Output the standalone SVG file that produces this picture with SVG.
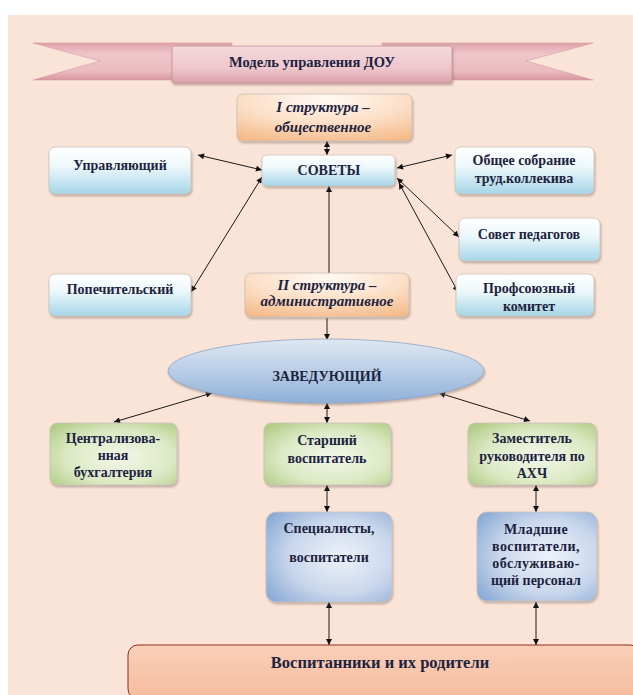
<svg xmlns="http://www.w3.org/2000/svg" width="633" height="695" viewBox="0 0 633 695">
<defs>
<linearGradient id="gBlue" x1="0" y1="0" x2="0" y2="1">
<stop offset="0" stop-color="#ffffff"/>
<stop offset="0.4" stop-color="#eef8fb"/>
<stop offset="1" stop-color="#a6d6e8"/>
</linearGradient>
<radialGradient id="gOrange" cx="0.5" cy="0.2" r="0.9" fx="0.5" fy="0.1">
<stop offset="0" stop-color="#fffaf5"/>
<stop offset="0.5" stop-color="#fce0c8"/>
<stop offset="1" stop-color="#f4b886"/>
</radialGradient>
<radialGradient id="gGreen" cx="0.55" cy="0.55" r="0.7">
<stop offset="0" stop-color="#f3f7ea"/>
<stop offset="0.6" stop-color="#dce9c4"/>
<stop offset="1" stop-color="#b3cd88"/>
</radialGradient>
<radialGradient id="gSteel" cx="0.6" cy="0.5" r="0.75">
<stop offset="0" stop-color="#eef2f9"/>
<stop offset="0.55" stop-color="#c9d7ec"/>
<stop offset="1" stop-color="#86a7d4"/>
</radialGradient>
<linearGradient id="gEll" x1="0" y1="0" x2="0" y2="1">
<stop offset="0" stop-color="#dfe8f3"/>
<stop offset="0.5" stop-color="#b9cde6"/>
<stop offset="1" stop-color="#8fb0d9"/>
</linearGradient>
<linearGradient id="gPinkBox" x1="0" y1="0" x2="0" y2="1">
<stop offset="0" stop-color="#f3d9dc"/>
<stop offset="0.6" stop-color="#eec7cc"/>
<stop offset="1" stop-color="#d9a0aa"/>
</linearGradient>
<linearGradient id="gWing" x1="0" y1="0" x2="0" y2="1">
<stop offset="0" stop-color="#dea2aa"/>
<stop offset="0.3" stop-color="#efc6cb"/>
<stop offset="0.75" stop-color="#ebbcc2"/>
<stop offset="1" stop-color="#d8979f"/>
</linearGradient>
<linearGradient id="gBottom" x1="0" y1="0" x2="0" y2="1">
<stop offset="0" stop-color="#f9cfb8"/>
<stop offset="1" stop-color="#f5bc9d"/>
</linearGradient>
<filter id="sh" x="-10%" y="-10%" width="125%" height="130%">
<feDropShadow dx="1" dy="2" stdDeviation="1.2" flood-color="#7a6a60" flood-opacity="0.45"/>
</filter>
<marker id="ar" viewBox="0 0 10 10" refX="10" refY="5" markerWidth="7" markerHeight="6" markerUnits="userSpaceOnUse" orient="auto-start-reverse">
<path d="M0,0 L10,5 L0,10 z" fill="#111"/>
</marker>
</defs>
<style>
.t{font-family:"Liberation Serif","Tinos","DejaVu Serif","Noto Serif","Times New Roman",Times,serif;font-weight:bold;font-size:14px;fill:#1c2340;text-anchor:middle}
.it{font-style:italic;font-size:15px}
.big{font-size:16.5px}
.ttl{font-size:14.5px}
.box{stroke:#c9c2bb;stroke-width:0.8;filter:url(#sh)}
.c{stroke:#1a1a1a;stroke-width:1;fill:none}
.d{marker-start:url(#ar);marker-end:url(#ar)}
.s{marker-end:url(#ar)}
</style>
<rect x="8" y="15" width="625" height="680" fill="#fae4d7"/>

<g id="banner">
<polygon points="33,43 232,43 232,80 33,80 100,61" fill="url(#gWing)" stroke="#d49aa2" stroke-width="0.6"/>
<polygon points="593,43 382,43 382,80 593,80 526,61" fill="url(#gWing)" stroke="#d49aa2" stroke-width="0.6"/>
<rect x="172" y="46" width="280" height="37" rx="2" fill="url(#gPinkBox)" stroke="#c98f99" stroke-width="0.8" filter="url(#sh)"/>
<text class="t ttl" x="312" y="67">Модель управления ДОУ</text>
</g>

<g id="connectors">
<line class="c d" x1="327" y1="141" x2="327" y2="155"/>
<line class="c d" x1="262" y1="170" x2="198" y2="155"/>
<line class="c d" x1="262" y1="177" x2="191" y2="292"/>
<line class="c d" x1="397" y1="168" x2="452" y2="155"/>
<line class="c d" x1="397" y1="178" x2="459" y2="237"/>
<line class="c d" x1="399" y1="183" x2="458" y2="292"/>
<line class="c s" x1="329" y1="273" x2="329" y2="186"/>
<line class="c s" x1="327" y1="318" x2="327" y2="340"/>
<line class="c d" x1="212" y1="393" x2="114" y2="422"/>
<line class="c d" x1="327" y1="403" x2="327" y2="423"/>
<line class="c d" x1="439" y1="393" x2="530" y2="421"/>
<line class="c d" x1="327" y1="485" x2="327" y2="512"/>
<line class="c d" x1="536" y1="485" x2="536" y2="512"/>
<line class="c d" x1="329" y1="602" x2="329" y2="645"/>
<line class="c d" x1="536" y1="602" x2="536" y2="645"/>
</g>

<g id="struct1">
<rect class="box" x="237" y="94" width="175" height="47" rx="6" fill="url(#gOrange)"/>
<text class="t it" x="323" y="112">I структура –</text>
<text class="t it" x="323" y="132">общественное</text>
</g>

<g id="upravl">
<rect class="box" x="49" y="147" width="142" height="47" rx="6" fill="url(#gBlue)"/>
<text class="t" x="120" y="170">Управляющий</text>
</g>

<g id="sovety">
<rect class="box" x="262" y="155" width="133" height="31" rx="5" fill="url(#gBlue)"/>
<text class="t" x="329" y="175">СОВЕТЫ</text>
</g>

<g id="obshee">
<rect class="box" x="455" y="147" width="139" height="47" rx="6" fill="url(#gBlue)"/>
<text class="t" x="524" y="165">Общее собрание</text>
<text class="t" x="524" y="183">труд.коллекива</text>
</g>

<g id="sovped">
<rect class="box" x="459" y="218" width="141" height="43" rx="6" fill="url(#gBlue)"/>
<text class="t" x="529" y="239">Совет педагогов</text>
</g>

<g id="popech">
<rect class="box" x="49" y="274" width="142" height="42" rx="6" fill="url(#gBlue)"/>
<text class="t" x="120" y="294">Попечительский</text>
</g>

<g id="struct2">
<rect class="box" x="245" y="273" width="164" height="44" rx="6" fill="url(#gOrange)"/>
<text class="t it" x="327" y="290">II структура –</text>
<text class="t it" x="327" y="306">административное</text>
</g>

<g id="prof">
<rect class="box" x="456" y="274" width="138" height="42" rx="6" fill="url(#gBlue)"/>
<text class="t" x="529" y="293">Профсоюзный</text>
<text class="t" x="529" y="311">комитет</text>
</g>

<g id="zaved">
<ellipse cx="326" cy="371" rx="158" ry="32" fill="url(#gEll)" stroke="#8ea6c6" stroke-width="0.8" filter="url(#sh)"/>
<text class="t" x="327" y="381">ЗАВЕДУЮЩИЙ</text>
</g>

<g id="buh">
<rect class="box" x="50" y="423" width="127" height="62" rx="7" fill="url(#gGreen)"/>
<text class="t" x="113" y="443">Централизова-</text>
<text class="t" x="113" y="460">нная</text>
<text class="t" x="113" y="477">бухгалтерия</text>
</g>

<g id="starsh">
<rect class="box" x="264" y="423" width="127" height="62" rx="7" fill="url(#gGreen)"/>
<text class="t" x="327" y="445">Старший</text>
<text class="t" x="327" y="463">воспитатель</text>
</g>

<g id="zam">
<rect class="box" x="468" y="423" width="128" height="62" rx="7" fill="url(#gGreen)"/>
<text class="t" x="532" y="443">Заместитель</text>
<text class="t" x="532" y="461">руководителя  по</text>
<text class="t" x="532" y="478">АХЧ</text>
</g>

<g id="spec">
<rect class="box" x="266" y="512" width="126" height="90" rx="10" fill="url(#gSteel)"/>
<text class="t" x="329" y="533">Специалисты,</text>
<text class="t" x="329" y="562">воспитатели</text>
</g>

<g id="mlad">
<rect class="box" x="477" y="512" width="120" height="89" rx="10" fill="url(#gSteel)"/>
<text class="t" x="536" y="534" letter-spacing="0.4">Младшие</text>
<text class="t" x="536" y="551" letter-spacing="0.4">воспитатели,</text>
<text class="t" x="536" y="568" letter-spacing="0.4">обслуживаю-</text>
<text class="t" x="536" y="585">щий персонал</text>
</g>

<g id="vospit">
<rect x="128" y="645" width="512" height="54" rx="10" fill="url(#gBottom)" stroke="#8b2e1e" stroke-width="1"/>
<text class="t big" x="380" y="668">Воспитанники и их родители</text>
</g>
</svg>
